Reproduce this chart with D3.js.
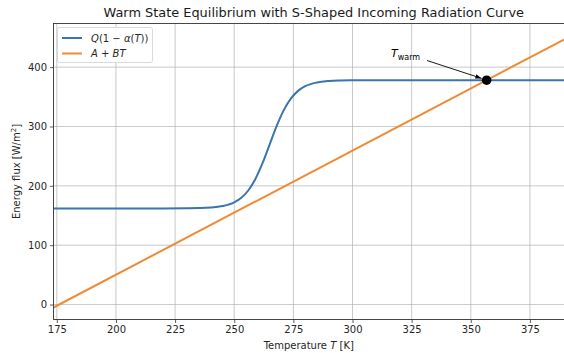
<!DOCTYPE html>
<html>
<head>
<meta charset="utf-8">
<script src="https://cdn.jsdelivr.net/npm/d3@7"></script>
<style>
  html, body { margin: 0; padding: 0; background: #fff; }
  svg { display: block; font-family: "DejaVu Sans", sans-serif; }
</style>
</head>
<body>
<svg id="chart" width="564" height="353"></svg>
<script>
// Temperatures (K) where the absorbed solar flux Q(1 - alpha(T)) is sampled
const tempK = [173.6, 200, 220, 230, 235, 240, 245, 250, 253, 256, 259, 262, 265,
               268, 271, 274, 277, 280, 285, 290, 295, 300, 310, 389.4];
// Absorbed solar flux (W/m^2) at those temperatures
const absorbed = [162.0, 162.0, 162.0, 162.2, 162.5, 163.4, 165.9, 172.2, 180.0, 192.6,
                  212.0, 238.5, 270.0, 301.5, 328.0, 347.4, 360.0, 367.8, 374.1, 376.6,
                  377.5, 377.8, 378.0, 378.0];
// Outgoing longwave A + BT at the two ends of the axis
const tempLine = [173.6, 389.4];
const outgoing = [-5.0, 446.4];
// Warm equilibrium point
const warmT = [356.7];
const warmFlux = [378.0];
// Tick values
const xTicks = [175, 200, 225, 250, 275, 300, 325, 350, 375];
const yTicks = [0, 100, 200, 300, 400];

const svg = d3.select("#chart");
const plotL = 53.5, plotR = 564, plotT = 23.5, plotB = 319.5;

const x = d3.scaleLinear().domain([173.6, 389.4]).range([plotL, plotR]);
const y = d3.scaleLinear().domain([-25.2, 473.5]).range([plotB, plotT]);

const blue = "#3b75af", orange = "#ef8a35";

// clip region for the plotted lines
svg.append("defs").append("clipPath").attr("id", "plotclip")
  .append("rect").attr("x", plotL).attr("y", plotT)
  .attr("width", plotR - plotL).attr("height", plotB - plotT);

// grid
const grid = svg.append("g");
grid.selectAll("line.vx").data(xTicks).join("line")
  .attr("x1", d => x(d)).attr("x2", d => x(d))
  .attr("y1", plotT).attr("y2", plotB)
  .attr("stroke", "#b0b0b0").attr("stroke-width", 0.8).attr("opacity", 0.85);
grid.selectAll("line.hy").data(yTicks).join("line")
  .attr("x1", plotL).attr("x2", plotR)
  .attr("y1", d => y(d)).attr("y2", d => y(d))
  .attr("stroke", "#b0b0b0").attr("stroke-width", 0.8).attr("opacity", 0.85);

// curves
const plot = svg.append("g").attr("clip-path", "url(#plotclip)");
const absorbedLine = d3.line()
  .x((d, i) => x(tempK[i])).y(d => y(d))
  .curve(d3.curveMonotoneX);
plot.append("path").datum(absorbed)
  .attr("d", absorbedLine)
  .attr("fill", "none").attr("stroke", blue).attr("stroke-width", 2);

const olrLine = d3.line().x((d, i) => x(tempLine[i])).y(d => y(d));
plot.append("path").datum(outgoing)
  .attr("d", olrLine)
  .attr("fill", "none").attr("stroke", orange).attr("stroke-width", 2);

// axes
const xAxis = d3.axisBottom(x).tickValues(xTicks).tickSize(3.5).tickPadding(3);
const yAxis = d3.axisLeft(y).tickValues(yTicks).tickSize(3.5).tickPadding(3);
const gx = svg.append("g").attr("transform", `translate(0,${plotB})`).call(xAxis);
const gy = svg.append("g").attr("transform", `translate(${plotL},0)`).call(yAxis);
[gx, gy].forEach(g => {
  g.select(".domain").remove();
  g.selectAll("line").attr("stroke", "#333").attr("stroke-width", 0.8);
  g.selectAll("text").attr("fill", "#262626").attr("font-size", 10)
    .attr("font-family", "DejaVu Sans, sans-serif");
});

// spines
svg.append("rect").attr("x", plotL).attr("y", plotT)
  .attr("width", plotR - plotL + 2).attr("height", plotB - plotT)
  .attr("fill", "none").attr("stroke", "#333").attr("stroke-width", 0.9);

// equilibrium marker and annotation
svg.append("defs").append("marker").attr("id", "arrowhead")
  .attr("viewBox", "0 0 10 10").attr("refX", 10).attr("refY", 5)
  .attr("markerWidth", 7).attr("markerHeight", 7).attr("orient", "auto")
  .append("path").attr("d", "M0,1.5 L10,5 L0,8.5 Z").attr("fill", "#000");

const px = x(warmT[0]), py = y(warmFlux[0]);
svg.append("line")
  .attr("x1", 427).attr("y1", 60.5)
  .attr("x2", px - 5).attr("y2", py - 1.8)
  .attr("stroke", "#000").attr("stroke-width", 0.9)
  .attr("marker-end", "url(#arrowhead)");
svg.selectAll("circle.eq").data(warmT).join("circle")
  .attr("cx", d => x(d)).attr("cy", (d, i) => y(warmFlux[i]))
  .attr("r", 4.8).attr("fill", "#000");

const ann = svg.append("text").attr("x", 391).attr("y", 57)
  .attr("font-size", 11).attr("fill", "#000");
ann.append("tspan").attr("font-style", "italic").text("T");
ann.append("tspan").attr("font-size", 8).attr("dy", 2.5).text("warm");

// title
svg.append("text").attr("x", (plotL + plotR) / 2 + 5).attr("y", 17)
  .attr("text-anchor", "middle").attr("font-size", 12.9).attr("fill", "#1a1a1a")
  .text("Warm State Equilibrium with S-Shaped Incoming Radiation Curve");

// axis labels
const xl = svg.append("text").attr("x", (plotL + plotR) / 2).attr("y", 349)
  .attr("text-anchor", "middle").attr("font-size", 10).attr("fill", "#262626");
xl.append("tspan").text("Temperature ");
xl.append("tspan").attr("font-style", "italic").text("T");
xl.append("tspan").text(" [K]");

const yl = svg.append("text")
  .attr("transform", `translate(20,${(plotT + plotB) / 2}) rotate(-90)`)
  .attr("text-anchor", "middle").attr("font-size", 10).attr("fill", "#262626");
yl.append("tspan").text("Energy flux [W/m");
yl.append("tspan").attr("font-size", 7).attr("dy", -4).text("2");
yl.append("tspan").attr("dy", 4).text("]");

// legend
const lg = svg.append("g");
lg.append("rect").attr("x", 57.5).attr("y", 27.5).attr("width", 95).attr("height", 35)
  .attr("rx", 2).attr("fill", "#fff").attr("fill-opacity", 0.85)
  .attr("stroke", "#d0d0d0").attr("stroke-width", 0.8);
const entries = [
  { color: blue, parts: [["Q", true], ["(1 \u2212 ", false], ["\u03B1", true], ["(", false], ["T", true], ["))", false]] },
  { color: orange, parts: [["A", true], [" + ", false], ["BT", true]] }
];
entries.forEach((e, i) => {
  const cy = 38 + i * 15.5;
  lg.append("line").attr("x1", 62).attr("x2", 82).attr("y1", cy).attr("y2", cy)
    .attr("stroke", e.color).attr("stroke-width", 2);
  const t = lg.append("text").attr("x", 91).attr("y", cy + 3.8)
    .attr("font-size", 10).attr("fill", "#262626");
  e.parts.forEach(p => t.append("tspan").attr("font-style", p[1] ? "italic" : "normal").text(p[0]));
});
</script>
</body>
</html>
